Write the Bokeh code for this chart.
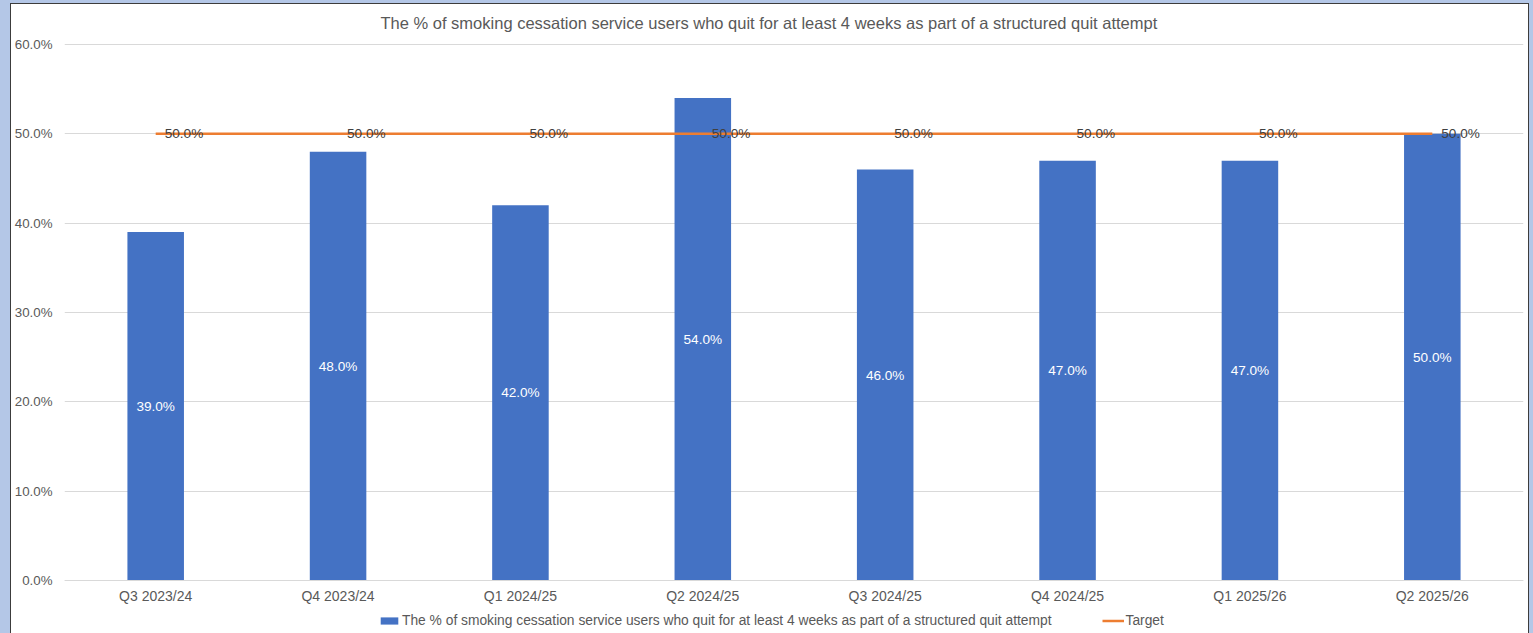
from bokeh.plotting import figure
from bokeh.models import (ColumnDataSource, FactorRange, Range1d, PrintfTickFormatter,
                          Legend, LegendItem, Label)
from bokeh.core.properties import value
from bokeh.embed import file_html
from bokeh.resources import INLINE

categories = ["Q3 2023/24", "Q4 2023/24", "Q1 2024/25", "Q2 2024/25",
              "Q3 2024/25", "Q4 2024/25", "Q1 2025/26", "Q2 2025/26"]
quit_pct = [39.0, 48.0, 42.0, 54.0, 46.0, 47.0, 47.0, 50.0]
target_pct = [50.0, 50.0, 50.0, 50.0, 50.0, 50.0, 50.0, 50.0]
series_name = "The % of smoking cessation service users who quit for at least 4 weeks as part of a structured quit attempt"
target_name = "Target"
title_text = "The % of smoking cessation service users who quit for at least 4 weeks as part of a structured quit attempt"
y_ticks = [0, 10, 20, 30, 40, 50, 60]

FONT = "Liberation Sans"
GREY = "#595959"
DARK = "#404040"
BLUE = "#4472C4"
ORANGE = "#ED7D31"

src = ColumnDataSource(dict(
    cat=categories,
    val=quit_pct,
    mid=[v / 2 for v in quit_pct],
    lab=["%.1f%%" % v for v in quit_pct],
    tgt=target_pct,
    tlab=["%.1f%%" % v for v in target_pct],
))

W, H = 1517, 629
# the frame spans the whole chart box (title and legend live inside it);
# the value axis runs 0..60 with 0 at the category axis
p = figure(width=W, height=H, x_range=FactorRange(*categories, range_padding=0),
           y_range=Range1d(-5.933, 64.478), output_backend="svg", toolbar_location=None,
           min_border_left=53, min_border_right=5, min_border_top=0, min_border_bottom=0)
p.margin = (4, 5, 0, 11)
p.styles = {"outline": "1px solid #3c3c3c", "background-color": "white"}
p.background_fill_color = "white"
p.border_fill_color = "white"
p.outline_line_color = None

bars = p.vbar(x="cat", top="val", width=0.31, source=src, color=BLUE, line_color=None)
line = p.line(x="cat", y="tgt", source=src, line_color=ORANGE, line_width=2.5)

p.text(x="cat", y="mid", text="lab", source=src, text_color="white",
       text_font=value(FONT), text_font_size="13.6px", text_align="center",
       text_baseline="middle")
p.text(x="cat", y="tgt", text="tlab", source=src, text_color=DARK,
       text_font=value(FONT), text_font_size="13.6px", text_align="left",
       text_baseline="middle", x_offset=9)

# axes
p.yaxis.ticker = y_ticks
p.yaxis.formatter = PrintfTickFormatter(format="%.1f%%")
p.yaxis.axis_line_color = None
p.yaxis.major_tick_line_color = None
p.yaxis.minor_tick_line_color = None
p.yaxis.major_tick_out = 0
p.yaxis.major_tick_in = 0
p.yaxis.major_label_text_font = FONT
p.yaxis.major_label_text_font_size = "13.3px"
p.yaxis.major_label_text_color = GREY
p.yaxis.major_label_standoff = 12

p.xaxis.fixed_location = 0
p.xaxis.axis_line_color = "#d9d9d9"
p.xaxis.major_tick_line_color = None
p.xaxis.minor_tick_line_color = None
p.xaxis.major_tick_out = 0
p.xaxis.major_tick_in = 0
p.xaxis.major_label_text_font = FONT
p.xaxis.major_label_text_font_size = "14px"
p.xaxis.major_label_text_color = GREY
p.xaxis.major_label_standoff = 8

p.xgrid.grid_line_color = None
p.ygrid.grid_line_color = "#d9d9d9"
p.ygrid.ticker = y_ticks

# chart title (screen units from the frame's bottom-left corner)
title = Label(x=316, y=H - 18, x_units="screen", y_units="screen", text=title_text,
              text_font=FONT, text_font_size="16.5px", text_color=GREY,
              text_align="left", text_baseline="middle")
p.add_layout(title)

legend = Legend(items=[LegendItem(label=series_name, renderers=[bars]),
                       LegendItem(label=target_name, renderers=[line])],
                orientation="horizontal", location=(314, 5),
                label_text_font=FONT, label_text_font_size="13.8px", label_text_color=GREY,
                glyph_width=22, glyph_height=9, label_standoff=2, spacing=50,
                padding=0, margin=0, border_line_color=None, background_fill_alpha=0,
                label_height=15)
p.add_layout(legend, "center")

html = file_html(p, INLINE)
html = html.replace("</head>", "<style>html,body{margin:0;padding:0;background:#b4c7e7;}</style></head>", 1)
open("out.html", "w").write(html)
